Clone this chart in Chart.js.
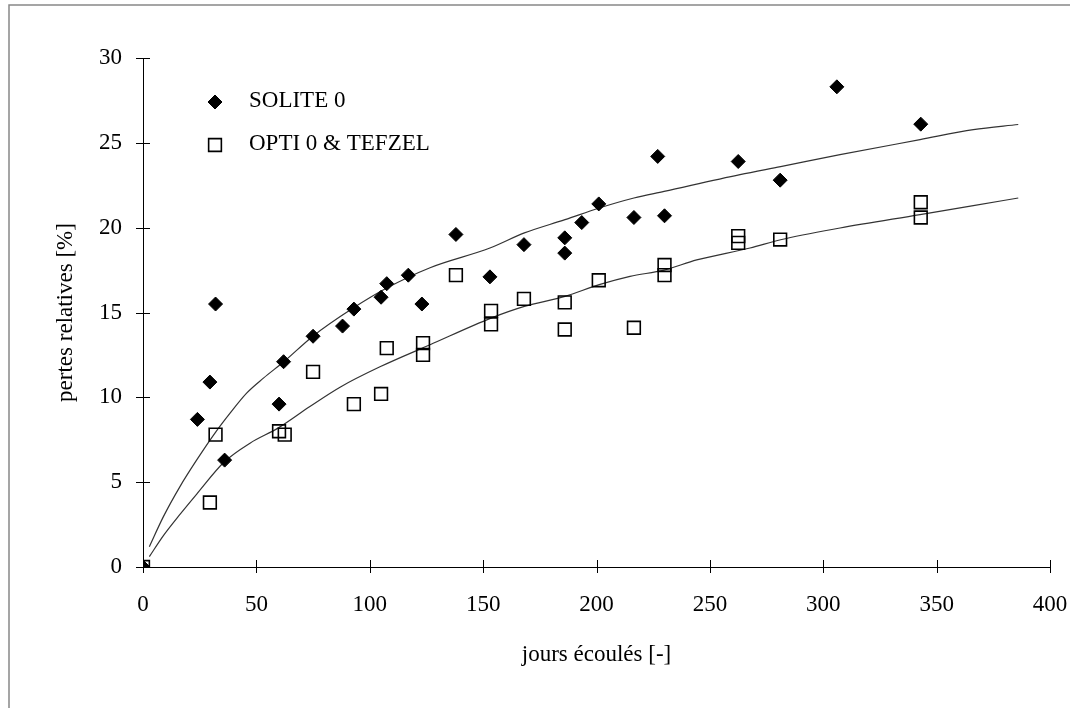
<!DOCTYPE html>
<html>
<head>
<meta charset="utf-8">
<script src="https://cdn.jsdelivr.net/npm/chart.js@4.4.1/dist/chart.umd.min.js"></script>
<style>
  html, body { margin: 0; padding: 0; background: #fff; }
  #wrap { width: 1070px; height: 708px; }
</style>
</head>
<body>
<div id="wrap"><canvas id="chart" width="1070" height="708"></canvas></div>
<script>
// values: days elapsed vs relative losses (%)
const soliteDays = [0, 24, 29.5, 32, 36, 60, 62, 75, 88, 93, 105, 107.5, 117, 123, 138, 153, 168, 186, 186, 193.5, 201, 216.5, 227, 230, 262.5, 281, 306, 343];
const soliteLoss = [0, 8.7, 10.9, 15.5, 6.3, 9.6, 12.1, 13.6, 14.2, 15.2, 15.9, 16.7, 17.2, 15.5, 19.6, 17.1, 19.0, 19.4, 18.5, 20.3, 21.4, 20.6, 24.2, 20.7, 23.9, 22.8, 28.3, 26.1];

const optiDays = [0, 32, 29.5, 60, 62.5, 75, 93, 105, 107.5, 123.5, 123.5, 138, 153.5, 153.5, 168, 186, 186, 201, 216.5, 230, 230, 262.5, 262.5, 281, 343, 343];
const optiLoss = [0, 7.8, 3.8, 8.0, 7.8, 11.5, 9.6, 10.2, 12.9, 13.2, 12.5, 17.2, 15.1, 14.3, 15.8, 15.6, 14.0, 16.9, 14.1, 17.8, 17.2, 19.5, 19.1, 19.3, 21.5, 20.6];

// fitted curves
const soliteFitDays = [2.8, 9, 16.3, 23.7, 32.2, 38.4, 45.7, 53.1, 62.2, 74.8, 92.7, 107.5, 126.6, 153, 168.2, 186.1, 201.2, 216.5, 229.8, 263.3, 281.2, 307.4, 342.7, 366.2, 386];
const soliteFitLoss = [1.2, 2.97, 4.74, 6.31, 7.98, 9.07, 10.25, 11.13, 12.11, 13.59, 15.26, 16.44, 17.64, 18.8, 19.69, 20.47, 21.16, 21.75, 22.14, 23.13, 23.6, 24.3, 25.19, 25.78, 26.08];

const optiFitDays = [2.8, 9, 16.3, 23.7, 35.9, 47.2, 59.7, 73.6, 86.9, 104.5, 126.6, 153.5, 168.2, 186.1, 201.2, 214.8, 229.8, 244.2, 267.7, 281.2, 307.4, 342.7, 366.2, 386];
const optiFitLoss = [0.61, 1.85, 3.1, 4.3, 6.2, 7.3, 8.2, 9.46, 10.6, 11.8, 13.1, 14.67, 15.36, 15.95, 16.64, 17.13, 17.5, 18.1, 18.8, 19.29, 19.98, 20.77, 21.3, 21.75];

const xTicks = [0, 50, 100, 150, 200, 250, 300, 350, 400];
const yTicks = [0, 5, 10, 15, 20, 25, 30];

const seriesNames = ['SOLITE 0', 'OPTI 0 & TEFZEL'];
const xTitle = 'jours écoulés [-]';
const yTitle = 'pertes relatives [%]';

const SERIF = "'Liberation Serif', 'Times New Roman', serif";
Chart.defaults.font.family = SERIF;
Chart.defaults.color = '#000';

function toPoints(xs, ys) {
    return xs.map((x, i) => ({ x: x, y: ys[i] }));
}

// scanned page frame (top and left edges only)
const pageFrame = {
    id: 'pageFrame',
    beforeDraw(chart) {
        const ctx = chart.ctx;
        ctx.save();
        ctx.fillStyle = '#fff';
        ctx.fillRect(0, 0, chart.width, chart.height);
        ctx.strokeStyle = '#888';
        ctx.lineWidth = 1.5;
        ctx.beginPath();
        ctx.moveTo(9, chart.height);
        ctx.lineTo(9, 5);
        ctx.lineTo(chart.width, 5);
        ctx.stroke();
        ctx.restore();
    }
};

// ticks crossing the axis lines
const crossTicks = {
    id: 'crossTicks',
    afterDatasetsDraw(chart) {
        const ctx = chart.ctx;
        const xs = chart.scales.x, ys = chart.scales.y;
        const area = chart.chartArea;
        ctx.save();
        ctx.strokeStyle = '#000';
        ctx.lineWidth = 1;
        ctx.beginPath();
        yTicks.forEach(v => {
            const py = Math.round(ys.getPixelForValue(v)) + 0.5;
            ctx.moveTo(area.left - 7, py);
            ctx.lineTo(area.left + 7, py);
        });
        xTicks.forEach(v => {
            const px = Math.round(xs.getPixelForValue(v)) + 0.5;
            ctx.moveTo(px, area.bottom - 7);
            ctx.lineTo(px, area.bottom + 6);
        });
        ctx.stroke();
        ctx.restore();
    }
};

// legend inside the plot, top left
const innerLegend = {
    id: 'innerLegend',
    afterDraw(chart) {
        const ctx = chart.ctx;
        const area = chart.chartArea;
        const x0 = area.left + 72;
        const y0 = area.top + 44;
        ctx.save();
        ctx.font = '23px ' + SERIF;
        ctx.textBaseline = 'middle';
        ctx.textAlign = 'left';
        [0, 1].forEach(i => {
            const ds = chart.data.datasets[i];
            const y = y0 + i * 43;
            ctx.fillStyle = ds.backgroundColor;
            ctx.strokeStyle = ds.borderColor;
            ctx.lineWidth = ds.borderWidth;
            Chart.helpers.drawPoint(ctx, {
                pointStyle: ds.pointStyle,
                radius: ds.pointRadius,
                borderWidth: ds.borderWidth,
                rotation: 0
            }, x0, y);
            ctx.fillStyle = '#000';
            ctx.fillText(seriesNames[i], x0 + 34, y - 1);
        });
        ctx.restore();
    }
};

new Chart(document.getElementById('chart'), {
    type: 'scatter',
    data: {
        datasets: [
            {
                label: seriesNames[0],
                data: toPoints(soliteDays, soliteLoss),
                pointStyle: 'rectRot',
                pointRadius: 7,
                backgroundColor: '#000',
                borderColor: '#000',
                borderWidth: 1
            },
            {
                label: seriesNames[1],
                data: toPoints(optiDays, optiLoss),
                pointStyle: 'rect',
                pointRadius: 9,
                backgroundColor: 'rgba(0,0,0,0)',
                borderColor: '#000',
                borderWidth: 1.6
            },
            {
                label: 'fit SOLITE',
                data: toPoints(soliteFitDays, soliteFitLoss),
                showLine: true,
                pointRadius: 0,
                borderColor: '#333',
                borderWidth: 1.2,
                cubicInterpolationMode: 'monotone'
            },
            {
                label: 'fit OPTI',
                data: toPoints(optiFitDays, optiFitLoss),
                showLine: true,
                pointRadius: 0,
                borderColor: '#333',
                borderWidth: 1.2,
                cubicInterpolationMode: 'monotone'
            }
        ]
    },
    options: {
        responsive: false,
        animation: false,
        layout: { padding: { top: 58, right: 20, left: 0, bottom: 0 } },
        plugins: {
            legend: { display: false },
            tooltip: { enabled: false }
        },
        scales: {
            x: {
                type: 'linear',
                min: 0,
                max: 400,
                afterBuildTicks: s => { s.ticks = xTicks.map(v => ({ value: v })); },
                afterFit: s => {
                    s.height = 141;
                    s.paddingLeft = 0;
                    s.paddingRight = 0;
                },
                grid: { display: false, drawTicks: false },
                border: { display: true, color: '#000', width: 1 },
                ticks: { padding: 24, font: { size: 23 }, color: '#000' },
                title: {
                    display: true,
                    text: xTitle,
                    font: { size: 23 },
                    color: '#000',
                    padding: { top: 0, bottom: 39 }
                }
            },
            y: {
                type: 'linear',
                min: 0,
                max: 30,
                afterBuildTicks: s => { s.ticks = yTicks.map(v => ({ value: v })); },
                afterFit: s => { s.width = 143; },
                grid: { display: false, drawTicks: false },
                border: { display: true, color: '#000', width: 1 },
                ticks: { padding: 21, font: { size: 23 }, color: '#000' },
                title: {
                    display: true,
                    text: yTitle,
                    font: { size: 23 },
                    color: '#000',
                    padding: { top: 52, bottom: 0 }
                }
            }
        }
    },
    plugins: [pageFrame, crossTicks, innerLegend]
});
</script>
</body>
</html>
